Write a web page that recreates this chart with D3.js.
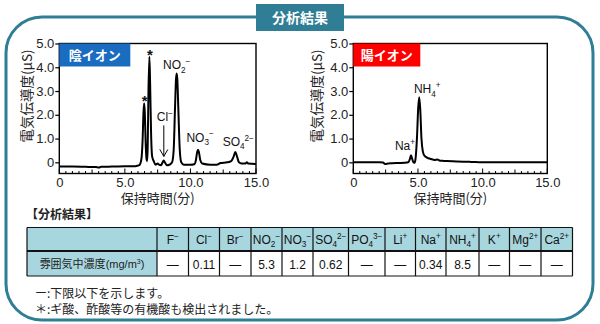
<!DOCTYPE html>
<html><head><meta charset="utf-8">
<script src="https://cdn.jsdelivr.net/npm/d3@7"></script>
<style>
body{margin:0;background:#fff}
svg{display:block;font-family:"Liberation Sans",Arial,"Noto Sans CJK JP",sans-serif}
</style>
</head><body>
<svg id="c" width="600" height="324"></svg>
<script>
// Anion chromatogram: retention time (min) and conductivity (µS)
const anionTimes  = [0, 1.0, 2.0, 2.8, 3.0, 3.2, 4.0, 5.0, 5.8, 6.1, 6.25, 6.35, 6.42, 6.47, 6.52, 6.58, 6.65, 6.70, 6.74, 6.80, 6.87, 6.93, 7.00, 7.08, 7.2, 7.35, 7.5, 7.6, 7.75, 7.9, 7.97, 8.05, 8.2, 8.4, 8.6, 8.72, 8.82, 8.9, 8.95, 9.0, 9.08, 9.18, 9.3, 9.5, 10.0, 10.3, 10.42, 10.52, 10.58, 10.65, 10.75, 10.9, 11.5, 12.0, 12.3, 12.8, 13.1, 13.3, 13.42, 13.55, 13.7, 13.9, 14.2, 14.3, 14.4, 15.0];
const anionValues = [-0.18, -0.18, -0.19, -0.2, -0.22, -0.19, -0.18, -0.17, -0.16, -0.12, 0.1, 0.9, 2.1, 2.49, 2.1, 0.9, 0.15, 0.05, 0.6, 3.0, 4.44, 3.2, 1.2, 0.25, 0.05, -0.1, -0.05, -0.1, -0.12, 0.02, 0.08, 0.0, -0.12, -0.1, 0.0, 0.5, 2.2, 3.5, 3.74, 3.5, 2.2, 0.6, 0.0, -0.1, -0.1, -0.08, 0.1, 0.45, 0.53, 0.42, 0.1, -0.05, -0.1, -0.1, -0.03, 0.0, 0.05, 0.25, 0.43, 0.25, 0.0, -0.05, -0.05, 0.0, -0.05, -0.07];

// Cation chromatogram
const cationTimes  = [0, 1.0, 2.0, 2.3, 2.45, 2.7, 3.0, 3.5, 4.0, 4.25, 4.38, 4.46, 4.55, 4.65, 4.72, 4.8, 4.92, 5.02, 5.1, 5.18, 5.27, 5.38, 5.5, 5.7, 6.0, 6.3, 6.5, 6.7, 7.0, 8.0, 9.0, 9.5, 10.0, 15.0];
const cationValues = [0.0, 0.0, 0.0, -0.01, -0.07, -0.05, -0.04, -0.03, -0.02, 0.0, 0.15, 0.30, 0.15, 0.0, -0.02, 0.1, 1.0, 2.3, 2.74, 2.2, 1.0, 0.45, 0.28, 0.2, 0.14, 0.1, 0.12, 0.07, 0.06, 0.03, 0.02, 0.01, 0.0, 0.0];

// Axis ticks
const yTickValues = [0, 1, 2, 3, 4, 5];
const xTickValues = [0, 5, 10, 15];
const xMinorTicks = d3.range(0, 15.01, 0.5);

// Peak annotations: [base, subscript, superscript], retention time, peak height
const anionPeaks = [
  {ion: ["*", "", ""], t: 6.47, v: 2.49},
  {ion: ["*", "", ""], t: 6.87, v: 4.44},
  {ion: ["NO", "2", "−"], t: 8.95, v: 3.74},
  {ion: ["NO", "3", "−"], t: 10.58, v: 0.53},
  {ion: ["SO", "4", "2−"], t: 13.42, v: 0.43}
];
const chloridePeak = {ion: ["Cl", "", "−"], t: 7.97, v: 0.08};
const cationPeaks = [
  {ion: ["Na", "", "+"], t: 4.46, v: 0.30},
  {ion: ["NH", "4", "+"], t: 5.1, v: 2.74}
];

// Results table
const tableIons = [
  ["F", "", "−"], ["Cl", "", "−"], ["Br", "", "−"], ["NO", "2", "−"], ["NO", "3", "−"],
  ["SO", "4", "2−"], ["PO", "4", "3−"], ["Li", "", "+"], ["Na", "", "+"], ["NH", "4", "+"],
  ["K", "", "+"], ["Mg", "", "2+"], ["Ca", "", "2+"]
];
const concentrations = ["—", "0.11", "—", "5.3", "1.2", "0.62", "—", "—", "0.34", "8.5", "—", "—", "—"];
const rowLabel = "雰囲気中濃度";
const notes = ["ー:下限以下を示します。", "＊:ギ酸、酢酸等の有機酸も検出されました。"];

const TEAL = "#2f7e95";
const svg = d3.select("#c");

// Outer rounded frame and heading tab
svg.append("rect").attr("x", 6).attr("y", 17).attr("width", 587).attr("height", 303)
  .attr("rx", 36).attr("fill", "none").attr("stroke", TEAL).attr("stroke-width", 3);
svg.append("rect").attr("x", 256).attr("y", 4).attr("width", 88).attr("height", 27).attr("fill", TEAL);
svg.append("text").attr("x", 300).attr("y", 23).attr("text-anchor", "middle")
  .attr("fill", "#fff").attr("font-size", 14).attr("font-weight", "bold")
  .attr("font-family", "'Noto Sans CJK JP'").text("分析結果");

function ionText(sel, ion, fs) {
  const [base, sub, sup] = ion;
  sel.append("tspan").text(base);
  if (sub) sel.append("tspan").attr("font-size", fs * 0.68).attr("dy", fs * 0.28).text(sub);
  if (sup) sel.append("tspan").attr("font-size", fs * 0.68).attr("dy", sub ? -fs * 0.72 : -fs * 0.42).text(sup);
}

function chromatogram(cfg) {
  const x = d3.scaleLinear().domain([0, 15]).range([cfg.left, cfg.right]);
  const y = d3.scaleLinear().domain([-0.47, 5]).range([173.5, 43.5]);
  const g = svg.append("g");

  // frame of the plot
  g.append("rect").attr("x", cfg.left).attr("y", 43.5).attr("width", cfg.right - cfg.left)
    .attr("height", 130).attr("fill", "none").attr("stroke", "#000").attr("stroke-width", 1.4);

  // y axis
  const ya = g.append("g").attr("transform", `translate(${cfg.left},0)`)
    .call(d3.axisLeft(y).tickValues(yTickValues).tickSize(4).tickPadding(1)
      .tickFormat(d => d === 0 ? "0" : d3.format(".1f")(d)));
  ya.select(".domain").remove();
  ya.selectAll("line").attr("stroke", "#000").attr("stroke-width", 1.2);
  ya.selectAll("text").attr("font-size", 13).attr("fill", "#222").attr("font-family", "'Liberation Sans',Arial");

  // x axis: labels below, ticks pointing into the plot
  const xa = g.append("g").attr("transform", `translate(0,173.5)`)
    .call(d3.axisBottom(x).tickValues(xTickValues).tickSize(0).tickPadding(4)
      .tickFormat(d => d === 0 ? "0" : d3.format(".1f")(d)));
  xa.select(".domain").remove();
  xa.selectAll("text").attr("font-size", 13).attr("fill", "#222").attr("font-family", "'Liberation Sans',Arial");
  g.selectAll(".minor").data(xMinorTicks).join("line").attr("class", "minor")
    .attr("x1", d => x(d)).attr("x2", d => x(d))
    .attr("y1", 173.5).attr("y2", d => d % 5 === 0 ? 168.5 : d % 2.5 === 0 ? 169.5 : 171)
    .attr("stroke", "#000").attr("stroke-width", 1);

  // axis titles
  g.append("text").attr("transform", `translate(${cfg.yTitleX},96) rotate(-90)`)
    .attr("text-anchor", "middle").attr("font-size", 13.5).attr("fill", "#222")
    .attr("font-family", "'Noto Sans CJK JP'").text("電気伝導度(μS)");
  g.append("text").attr("x", (cfg.left + cfg.right) / 2).attr("y", 203)
    .attr("text-anchor", "middle").attr("font-size", 13).attr("fill", "#222")
    .attr("font-family", "'Noto Sans CJK JP'").text("保持時間(分)");

  // trace
  const pts = cfg.times.map((t, i) => [t, cfg.values[i]]);
  g.append("path").datum(pts)
    .attr("d", d3.line().x(d => x(d[0])).y(d => y(d[1])).curve(d3.curveMonotoneX))
    .attr("fill", "none").attr("stroke", "#000").attr("stroke-width", 2).attr("stroke-linejoin", "round");

  // badge
  g.append("rect").attr("x", cfg.left).attr("y", 43.5).attr("width", cfg.badgeW).attr("height", 23)
    .attr("fill", cfg.badgeColor);
  g.append("text").attr("x", cfg.left + cfg.badgeW / 2).attr("y", 60).attr("text-anchor", "middle")
    .attr("fill", "#fff").attr("font-size", 13).attr("font-weight", "bold")
    .attr("font-family", "'Noto Sans CJK JP'").text(cfg.badge);

  // peak labels
  cfg.peaks.forEach(p => {
    const star = p.ion[0] === "*";
    const t = g.append("text").attr("x", x(p.t) + (p.dx || 0))
      .attr("y", y(p.v) + (star ? 3 : (p.dy || -3)))
      .attr("text-anchor", "middle").attr("fill", "#111")
      .attr("font-size", star ? 15 : 12).attr("font-weight", star ? "bold" : "normal");
    ionText(t, p.ion, 12);
  });
  return {x, y, g};
}

const left = chromatogram({
  left: 59.3, right: 256, yTitleX: 32, times: anionTimes, values: anionValues,
  badge: "陰イオン", badgeColor: "#1a6cc0", badgeW: 71,
  peaks: anionPeaks.map((p, i) => Object.assign({}, p, [{dx: 0.5}, {dx: 0.5}, {dy: -4}, {dx: 2, dy: -8}, {dx: 3, dy: -6}][i]))
});
const right = chromatogram({
  left: 353.3, right: 547.3, yTitleX: 322, times: cationTimes, values: cationValues,
  badge: "陽イオン", badgeColor: "#ff0000", badgeW: 67,
  peaks: cationPeaks.map((p, i) => Object.assign({}, p, [{dx: -6, dy: -5}, {dx: 8, dy: -4}][i]))
});

// chloride label with arrow pointing at its small peak
{
  const cx = left.x(chloridePeak.t), cy = left.y(chloridePeak.v);
  const t = left.g.append("text").attr("x", cx + 1).attr("y", cy - 39).attr("text-anchor", "middle")
    .attr("font-size", 12).attr("fill", "#111");
  ionText(t, chloridePeak.ion, 12);
  left.g.append("line").attr("x1", cx).attr("x2", cx).attr("y1", cy - 35).attr("y2", cy - 4)
    .attr("stroke", "#000").attr("stroke-width", 1);
  left.g.append("path").attr("d", `M${cx - 4},${cy - 11}L${cx},${cy - 4}L${cx + 4},${cy - 11}`)
    .attr("fill", "none").attr("stroke", "#000").attr("stroke-width", 1);
}

// Results table
svg.append("text").attr("x", 26).attr("y", 219).attr("font-size", 12).attr("font-weight", "bold")
  .attr("fill", "#222").attr("font-family", "'Noto Sans CJK JP'").text("【分析結果】");

const colEdges = [27, 157, 188.5, 219.5, 251, 282, 313, 348.5, 385, 415.5, 446, 479, 509.5, 541, 572.5];
const rowTop = 227.5, rowMid = 251, rowBot = 276;
const tg = svg.append("g");
tg.append("rect").attr("x", colEdges[0]).attr("y", rowTop).attr("width", colEdges[14] - colEdges[0])
  .attr("height", rowMid - rowTop).attr("fill", "#a8d6df");
tg.append("rect").attr("x", colEdges[0]).attr("y", rowMid).attr("width", colEdges[1] - colEdges[0])
  .attr("height", rowBot - rowMid).attr("fill", "#a8d6df");

tableIons.forEach((ion, i) => {
  const cx = (colEdges[i + 1] + colEdges[i + 2]) / 2;
  const h = tg.append("text").attr("x", cx).attr("y", 244).attr("text-anchor", "middle")
    .attr("font-size", 12).attr("fill", "#111");
  ionText(h, ion, 12);
  tg.append("text").attr("x", cx).attr("y", 268.5).attr("text-anchor", "middle")
    .attr("font-size", 12).attr("fill", "#111").text(concentrations[i]);
});
{
  const t = tg.append("text").attr("x", (colEdges[0] + colEdges[1]) / 2).attr("y", 268)
    .attr("text-anchor", "middle").attr("font-size", 11).attr("fill", "#222");
  t.append("tspan").attr("font-family", "'Noto Sans CJK JP'").text(rowLabel);
  t.append("tspan").text("(mg/m");
  t.append("tspan").attr("font-size", 7).attr("dy", -4).text("3");
  t.append("tspan").attr("dy", 4).text(")");
}
// grid lines
[rowTop, rowMid, rowBot].forEach(yv => tg.append("line").attr("x1", colEdges[0]).attr("x2", colEdges[14])
  .attr("y1", yv).attr("y2", yv).attr("stroke", "#111").attr("stroke-width", yv === rowMid ? 2 : 1.2));
colEdges.forEach((xv, i) => tg.append("line").attr("x1", xv).attr("x2", xv)
  .attr("y1", rowTop).attr("y2", rowBot).attr("stroke", "#111").attr("stroke-width", 1.2));

// Footnotes
notes.forEach((n, i) => svg.append("text").attr("x", 35).attr("y", 298 + i * 16)
  .attr("font-size", 12).attr("fill", "#222").attr("font-family", "'Noto Sans CJK JP'").text(n));
</script>
</body></html>
